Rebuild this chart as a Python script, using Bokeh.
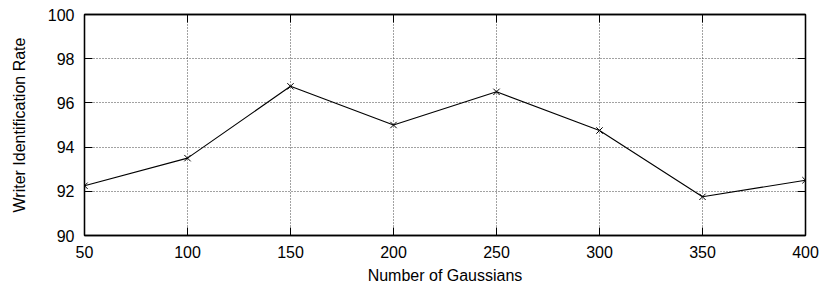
from bokeh.plotting import figure
from bokeh.models import LinearAxis, FixedTicker, Range1d, CustomJSTickFormatter
from bokeh.embed import file_html
from bokeh.resources import INLINE

gaussians = [50, 100, 150, 200, 250, 300, 350, 400]
rates = [92.25, 93.5, 96.75, 95.0, 96.5, 94.75, 91.75, 92.5]
x_ticks = [50, 100, 150, 200, 250, 300, 350, 400]
y_ticks = [90, 92, 94, 96, 98, 100]
x_title = "Number of Gaussians"
y_title = "Writer Identification Rate"

FONT = "Liberation Sans"

p = figure(width=822, height=286,
           x_range=Range1d(50, 400), y_range=Range1d(90, 100),
           output_backend="svg", toolbar_location=None,
           min_border_left=84, min_border_right=17,
           min_border_top=14, min_border_bottom=49)

p.outline_line_color = "black"
p.outline_line_width = 1.3

p.xaxis.ticker = FixedTicker(ticks=x_ticks)
p.yaxis.ticker = FixedTicker(ticks=y_ticks)

for ax in (p.xaxis[0], p.yaxis[0]):
    ax.axis_line_color = "black"
    ax.axis_line_width = 1.3
    ax.major_tick_line_color = "black"
    ax.major_tick_in = 8
    ax.major_tick_out = 0
    ax.minor_tick_line_color = None
    ax.major_label_text_font = FONT
    ax.major_label_text_font_size = "16px"
    ax.major_label_text_color = "black"
    ax.axis_label_text_font = FONT
    ax.axis_label_text_font_size = "16px"
    ax.axis_label_text_font_style = "normal"
    ax.axis_label_text_color = "black"

p.xaxis.axis_label = x_title
p.yaxis.axis_label = y_title
p.xaxis.major_label_standoff = 10
p.xaxis.axis_label_standoff = 6
p.yaxis.major_label_standoff = 10
p.yaxis.axis_label_standoff = 17

blank = CustomJSTickFormatter(code="return ''")
top = LinearAxis(ticker=FixedTicker(ticks=x_ticks), formatter=blank,
                 major_tick_in=8, major_tick_out=0, minor_tick_line_color=None,
                 major_label_standoff=0, axis_line_color="black", axis_line_width=1.3)
right = LinearAxis(ticker=FixedTicker(ticks=y_ticks), formatter=blank,
                   major_tick_in=8, major_tick_out=0, minor_tick_line_color=None,
                   major_label_standoff=0, axis_line_color="black", axis_line_width=1.3)
p.add_layout(top, "above")
p.add_layout(right, "right")

for g in (p.xgrid[0], p.ygrid[0]):
    g.grid_line_color = "#444444"
    g.grid_line_dash = "1 2"
    g.grid_line_width = 1

p.line(gaussians, rates, line_color="black", line_width=1.1)
p.scatter(gaussians, rates, marker="x", size=9, line_color="black", line_width=1)

open("out.html", "w").write(file_html(p, INLINE))
